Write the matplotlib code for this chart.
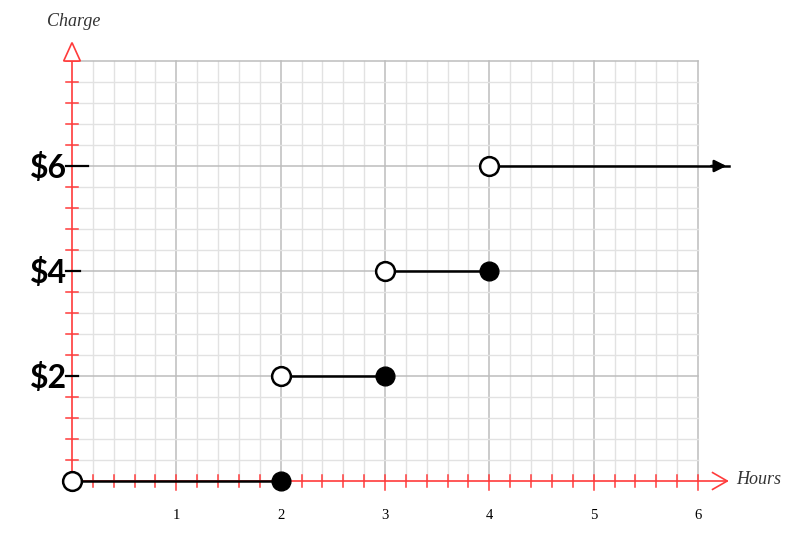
import numpy as np
import matplotlib.pyplot as plt

# step-function data (hours -> charge)
seg_start = [0, 2, 3, 4]
seg_end = [2, 3, 4, 6.3]
charge = [0, 2, 4, 6]
closed_end = [True, True, True, False]
y_labels = ["$2", "$4", "$6"]
y_label_vals = [2, 4, 6]
x_tick_vals = [1, 2, 3, 4, 5, 6]

RED = "#ff3b3b"

fig = plt.figure(figsize=(8.03, 5.35), dpi=100)
ax = fig.add_axes([0, 0, 1, 1])
ax.set_xlim(-72 / 104.33, (803 - 72) / 104.33)
ax.set_ylim(-(535 - 481) / 52.5, 481 / 52.5)
ax.axis("off")

# grid
for x in np.arange(0.2, 6.01, 0.2):
    major = abs(x - round(x)) < 1e-6
    ax.plot([x, x], [0, 8], color="#bdbdbd" if major else "#e2e2e2",
            lw=1.1 if major else 1.0, zorder=1)
for y in np.arange(0.4, 8.01, 0.4):
    major = abs(y / 2 - round(y / 2)) < 1e-6
    ax.plot([0, 6], [y, y], color="#bdbdbd" if major else "#e2e2e2",
            lw=1.1 if major else 1.0, zorder=1)

# red axes
ax.plot([0, 6.28], [0, 0], color=RED, lw=1.2, zorder=2)
ax.plot([0, 0], [0, 8.3], color=RED, lw=1.2, zorder=2)
# x arrow (open chevron)
ax.plot([6.14, 6.28, 6.14], [0.16, 0, -0.16], color=RED, lw=1.2, zorder=2)
# y arrow (open triangle)
ax.fill([-0.08, 0, 0.08, -0.08], [8.0, 8.35, 8.0, 8.0], facecolor="white",
        edgecolor=RED, lw=1.2, zorder=3)

# red ticks
for x in np.arange(0.2, 6.01, 0.2):
    major = abs(x - round(x)) < 1e-6
    h = 0.18 if major else 0.11
    ax.plot([x, x], [-h, h * 0.6 if major else h], color=RED, lw=1.1, zorder=2)
for y in np.arange(0.4, 8.01, 0.4):
    ax.plot([-0.055, 0.055], [y, y], color=RED, lw=1.1, zorder=2)

# black ticks at labels
for v, lab, ext in zip(y_label_vals, y_labels, [0.06, 0.08, 0.15]):
    ax.plot([-0.06, ext], [v, v], color="black", lw=1.6, zorder=4)
    ax.text(-0.05, v - 0.04, lab, ha="right", va="center",
            fontsize=23, fontweight="bold", family="Lato")

for v in x_tick_vals:
    ax.text(v, -0.65, str(v), ha="center", va="center", fontsize=10.5,
            family="Liberation Serif")

ax.text(0.02, 8.75, "Charge", ha="center", va="center", fontsize=13,
        style="italic", family="Liberation Serif", color="#333333")
ax.text(6.58, 0.02, "Hours", ha="center", va="center", fontsize=13,
        style="italic", family="Liberation Serif", color="#333333")

# step function
for s, e, c, cl in zip(seg_start, seg_end, charge, closed_end):
    ax.plot([s, e], [c, c], color="black", lw=1.8, zorder=5)
    ax.plot(s, c, "o", ms=13.5, mfc="white", mec="black", mew=1.8, zorder=6)
    if cl:
        ax.plot(e, c, "o", ms=13.5, mfc="black", mec="black", zorder=6)
    else:
        ax.annotate("", xy=(e, c), xytext=(e - 0.2, c),
                    arrowprops=dict(arrowstyle="-|>", color="black", lw=1.8,
                                    mutation_scale=18), zorder=6)

fig.savefig("out.png", dpi=100)
